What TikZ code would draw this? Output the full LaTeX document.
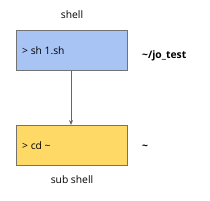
\documentclass[tikz,border=0pt]{standalone}
\usepackage{fontspec}
\setmainfont{Open Sans}
\usetikzlibrary{arrows.meta}
\begin{document}
\begin{tikzpicture}[x=1pt,y=-1pt,
  boxstyle/.style={draw=black!55, line width=0.8pt, minimum width=111pt, minimum height=40pt, anchor=north west, inner sep=0pt},
  lbl/.style={font=\fontsize{10.3}{11}\selectfont, inner sep=0pt},
  arr/.style={draw=black!60, line width=0.8pt, -{Stealth[length=5pt,width=4pt]}}]
\useasboundingbox[fill=white] (0,0) rectangle (210,201);
\definecolor{boxblue}{RGB}{168,196,245}
\definecolor{boxyellow}{RGB}{255,217,102}
\node[boxstyle, fill=boxblue] (sh) at (16,30) {};
\node[boxstyle, fill=boxyellow] (sub) at (16,125) {};
\node[lbl, anchor=west] (t1) at (22,51) {> sh 1.sh};
\node[lbl, anchor=west] (t2) at (22,146) {> cd \char`~};
\node[lbl] (shell) at (72,15) {shell};
\node[lbl] (subshell) at (72,180) {sub shell};
\node[lbl, anchor=west, font=\fontsize{10.3}{11}\selectfont\bfseries] (jo) at (142,56) {\char`~/jo\_test};
\node[lbl, anchor=west, font=\fontsize{10.3}{11}\selectfont\bfseries] (tilde) at (142,147) {\char`~};
\draw[arr] (sh.south -| 71,0) -- (sub.north -| 71,0);
\end{tikzpicture}
\end{document}
